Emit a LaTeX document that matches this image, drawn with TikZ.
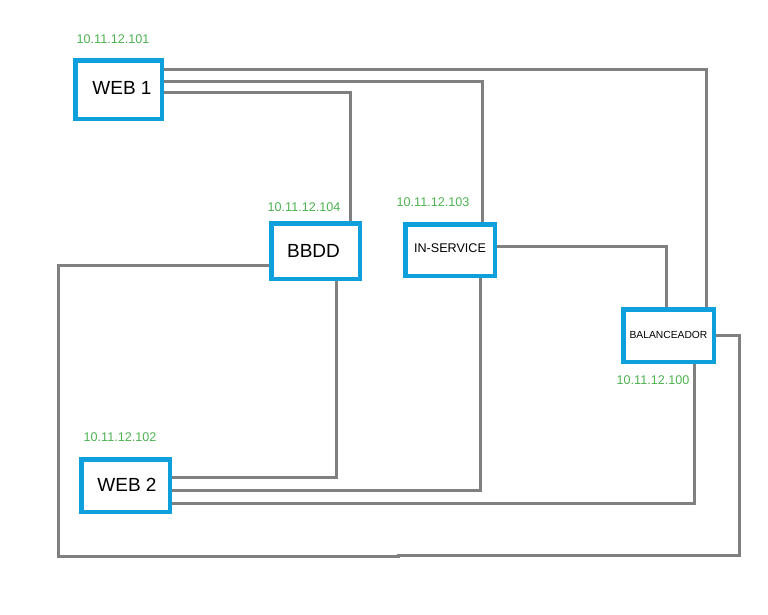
\documentclass[tikz,border=0pt]{standalone}
\usepackage{fontspec}
\setmainfont{Liberation Sans}
\usetikzlibrary{backgrounds}
\definecolor{boxblue}{RGB}{14,160,220}
\definecolor{wiregray}{RGB}{128,128,128}
\definecolor{ipgreen}{RGB}{76,178,80}
\tikzset{
  host/.style={draw=boxblue, line width=4.5pt, fill=white, rectangle, inner sep=0pt},
  wire/.style={draw=wiregray, line width=3pt},
  ip/.style={text=ipgreen, font=\fontsize{12.6}{12.6}\selectfont, inner sep=0pt},
  big/.style={font=\fontsize{19}{19}\selectfont},
}
% shift a label inside its box: \nudge{dx}{dy}{text}
\newcommand{\nudge}[3]{\raisebox{#2}{\hspace*{#1}#3}}
\begin{document}
\begin{tikzpicture}[x=1pt, y=-1pt]
\useasboundingbox (0,0) rectangle (768,614);

% hosts
\node[host, big, minimum width=86.5pt, minimum height=58.5pt] (web1) at (118.5,89.5) {\nudge{7pt}{2.5pt}{WEB 1}};
\node[host, big, minimum width=88.5pt, minimum height=55.5pt] (bbdd) at (315.5,251) {\nudge{-4pt}{-3pt}{BBDD}};
\node[host, font=\fontsize{12.6}{12.6}\selectfont, minimum width=89.5pt, minimum height=51.5pt] (ins) at (450,250) {\nudge{0pt}{4.5pt}{IN-SERVICE}};
\node[host, font=\fontsize{10.3}{10.3}\selectfont, minimum width=90.5pt, minimum height=52.5pt] (bal) at (668.5,335.5) {\nudge{0pt}{2pt}{BALANCEADOR}};
\node[host, big, minimum width=88.5pt, minimum height=52.5pt] (web2) at (125.5,485.5) {\nudge{3pt}{1.5pt}{WEB 2}};

% addresses
\node[ip] (ip1) at (113,39) {10.11.12.101};
\node[ip] (ip4) at (304,207) {10.11.12.104};
\node[ip] (ip3) at (433,202) {10.11.12.103};
\node[ip] (ip0) at (653,380) {10.11.12.100};
\node[ip] (ip2) at (120,437) {10.11.12.102};

% links
\begin{scope}[on background layer]
  \draw[wire] (web1.east |- 0,69) -| (bal.north -| 706,0);
  \draw[wire] (web1.east |- 0,81) -| (ins.north -| 482,0);
  \draw[wire] (web1.east |- 0,92) -| (bbdd.north -| 350,0);
  \draw[wire] (ins.east |- 0,246) -| (bal.north -| 666,0);
  \draw[wire] (bbdd.west |- 0,265) -| (58,556) -- (398,556) -- (398,555)
              -| (739,335) -- (bal.east |- 0,335);
  \draw[wire] (bbdd.south -| 336,0) |- (web2.east |- 0,477);
  \draw[wire] (ins.south -| 480,0) |- (web2.east |- 0,490);
  \draw[wire] (bal.south -| 694,0) |- (web2.east |- 0,503);
\end{scope}
\end{tikzpicture}
\end{document}
